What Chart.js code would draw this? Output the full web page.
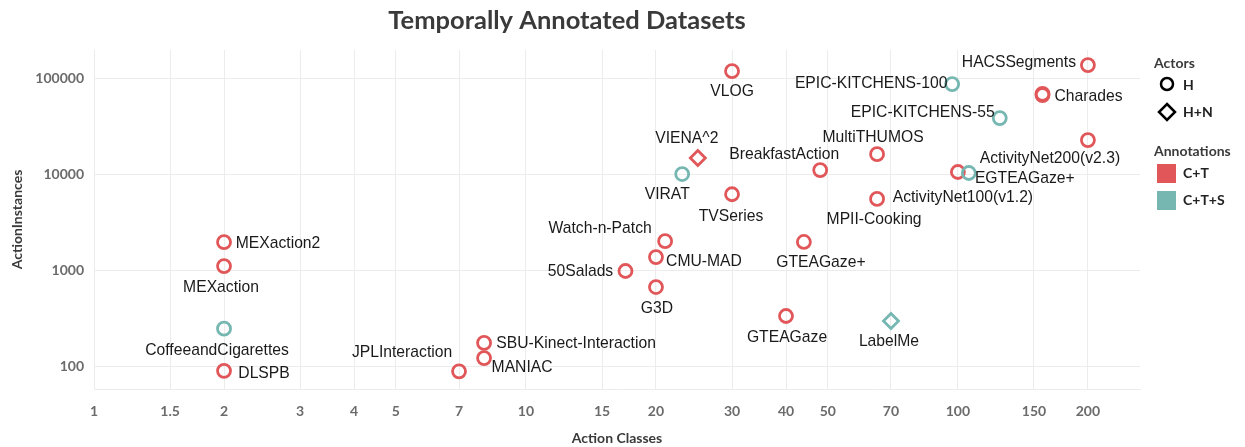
<!DOCTYPE html>
<html>
<head>
<meta charset="utf-8">
<script src="https://cdn.jsdelivr.net/npm/chart.js@4"></script>
<style>
  body { margin: 0; background: #fff; }
  #wrap { width: 1245px; height: 447px; position: relative; }
</style>
</head>
<body>
<div id="wrap"><canvas id="scatterChart"></canvas></div>
<script>
    // dataset names, classes (x) and instances (y)
    var names = ['MEXaction2', 'MEXaction', 'CoffeeandCigarettes', 'DLSPB', 'JPLInteraction',
        'SBU-Kinect-Interaction', 'MANIAC', '50Salads', 'G3D', 'CMU-MAD', 'Watch-n-Patch',
        'VIRAT', 'VIENA^2', 'TVSeries', 'VLOG', 'BreakfastAction', 'GTEAGaze+', 'GTEAGaze',
        'MultiTHUMOS', 'MPII-Cooking', 'LabelMe', 'EPIC-KITCHENS-100', 'EPIC-KITCHENS-55',
        'ActivityNet100(v1.2)', 'EGTEAGaze+', 'ActivityNet200(v2.3)', 'Charades', '', 'HACSSegments'];
    var classes = [2, 2, 2, 2, 7, 8, 8, 17, 20, 20, 21, 23, 25, 30, 30, 48, 44, 40,
        65, 65, 70, 97, 125, 100, 106, 200, 157, 157, 200];
    var instances = [1950, 1100, 245, 89, 88, 174, 121, 977, 665, 1365, 2000, 10000, 14700,
        6160, 118000, 11000, 1960, 332, 16100, 5500, 294, 86600, 38300, 10500, 10250,
        22600, 66500, 68500, 136600];
    var actors = ['H', 'H', 'H', 'H', 'H', 'H', 'H', 'H', 'H', 'H', 'H', 'H', 'H+N', 'H', 'H',
        'H', 'H', 'H', 'H', 'H', 'H+N', 'H', 'H', 'H', 'H', 'H', 'H', 'H', 'H'];
    var annotations = ['C+T', 'C+T', 'C+T+S', 'C+T', 'C+T', 'C+T', 'C+T', 'C+T', 'C+T', 'C+T',
        'C+T', 'C+T+S', 'C+T', 'C+T', 'C+T', 'C+T', 'C+T', 'C+T', 'C+T', 'C+T', 'C+T+S',
        'C+T+S', 'C+T+S', 'C+T', 'C+T+S', 'C+T', 'C+T', 'C+T', 'C+T'];
    var xTicks = [1, 1.5, 2, 3, 4, 5, 7, 10, 15, 20, 30, 40, 50, 70, 100, 150, 200];
    var yTicks = [100, 1000, 10000, 100000];

    var colors = { 'C+T': '#E15759', 'C+T+S': '#76B7B2' };
    var shapes = { 'H': 'circle', 'H+N': 'rectRot' };

    // label offset (px) from the point, text centred there
    var labelOffsets = {
        'MEXaction2': [54, 1], 'MEXaction': [-3, 22], 'CoffeeandCigarettes': [-7, 22],
        'DLSPB': [40, 3], 'JPLInteraction': [-57, -19], 'SBU-Kinect-Interaction': [92, 1],
        'MANIAC': [38, 10], '50Salads': [-45, 1], 'G3D': [1, 22], 'CMU-MAD': [48, 5],
        'Watch-n-Patch': [-65, -12], 'VIRAT': [-15, 21], 'VIENA^2': [-11, -19],
        'TVSeries': [-1, 22], 'VLOG': [0, 21], 'BreakfastAction': [-36, -15],
        'GTEAGaze+': [17, 21], 'GTEAGaze': [1, 22], 'MultiTHUMOS': [-4, -17],
        'MPII-Cooking': [-3, 21], 'LabelMe': [-2, 21], 'EPIC-KITCHENS-100': [-81, 0],
        'EPIC-KITCHENS-55': [-77, -5], 'ActivityNet100(v1.2)': [5, 26],
        'EGTEAGaze+': [56, 6], 'ActivityNet200(v2.3)': [-38, 19], 'Charades': [46, 2],
        'HACSSegments': [-69, -2]
    };

    var points = classes.map(function(c, i) { return { x: c, y: instances[i] }; });

    var labelPlugin = {
        id: 'pointLabels',
        afterDatasetsDraw: function(chart) {
            var ctx = chart.ctx;
            var meta = chart.getDatasetMeta(0);
            ctx.save();
            ctx.font = '15.7px "Liberation Sans", Arial, sans-serif';
            ctx.fillStyle = '#1a1a1a';
            ctx.textAlign = 'center';
            ctx.textBaseline = 'middle';
            meta.data.forEach(function(pt, i) {
                var off = labelOffsets[names[i]];
                if (!off) return;
                ctx.fillText(names[i], pt.x + off[0], pt.y + off[1]);
            });
            ctx.restore();
        },
        afterDraw: function(chart) {
            var ctx = chart.ctx;
            ctx.save();
            // title
            ctx.fillStyle = '#3a3a3a';
            ctx.font = 'bold 25.5px Lato, "Open Sans", sans-serif';
            ctx.textAlign = 'center';
            ctx.textBaseline = 'middle';
            ctx.fillText('Temporally Annotated Datasets', 567, 21);

            // legend
            ctx.textAlign = 'left';
            ctx.fillStyle = '#3a3a3a';
            ctx.font = 'bold 14px Lato, "Open Sans", sans-serif';
            ctx.fillText('Actors', 1154, 63);
            ctx.fillText('Annotations', 1154, 151);
            ctx.fillStyle = '#222';
            ctx.fillText('H', 1183, 85);
            ctx.fillText('H+N', 1183, 112);
            ctx.fillText('C+T', 1183, 173);
            ctx.fillText('C+T+S', 1183, 200);

            ctx.strokeStyle = '#000';
            ctx.lineWidth = 2.5;
            ctx.beginPath();
            ctx.arc(1167, 84, 6, 0, Math.PI * 2);
            ctx.stroke();
            ctx.beginPath();
            ctx.moveTo(1167, 104); ctx.lineTo(1175, 112);
            ctx.lineTo(1167, 120); ctx.lineTo(1159, 112);
            ctx.closePath();
            ctx.stroke();

            ctx.fillStyle = colors['C+T'];
            ctx.fillRect(1157, 164, 19, 19);
            ctx.fillStyle = colors['C+T+S'];
            ctx.fillRect(1157, 191, 19, 19);
            ctx.restore();
        }
    };

    var ctx = document.getElementById('scatterChart').getContext('2d');
    var scatterChart = new Chart(ctx, {
        type: 'scatter',
        data: {
            datasets: [{
                data: points,
                pointStyle: actors.map(function(a) { return shapes[a]; }),
                borderColor: annotations.map(function(a) { return colors[a]; }),
                backgroundColor: 'rgba(0,0,0,0)',
                pointBorderWidth: 2.8,
                pointRadius: actors.map(function(a) { return a === 'H+N' ? 7.5 : 6.5; }),
                pointHoverRadius: 7
            }]
        },
        plugins: [labelPlugin],
        options: {
            responsive: true,
            maintainAspectRatio: false,
            animation: false,
            layout: { padding: { left: 0, right: 105, top: 50, bottom: 0 } },
            plugins: {
                legend: { display: false },
                title: { display: false },
                tooltip: {
                    callbacks: {
                        label: function(item) {
                            return names[item.dataIndex] + ': ' + item.parsed.x + ', ' + item.parsed.y;
                        }
                    }
                }
            },
            scales: {
                x: {
                    type: 'logarithmic',
                    min: 1,
                    max: 264,
                    afterBuildTicks: function(scale) {
                        scale.ticks = xTicks.map(function(v) { return { value: v }; });
                    },
                    afterFit: function(scale) { scale.height = 58; },
                    grid: { color: '#ececec', lineWidth: 1, drawTicks: false },
                    border: { color: '#ececec' },
                    ticks: {
                        autoSkip: false,
                        maxRotation: 0,
                        padding: 14,
                        color: '#6b6b6b',
                        font: { family: 'Lato, "Open Sans", sans-serif', size: 14, weight: 'bold' },
                        callback: function(v) { return String(v); }
                    },
                    title: {
                        display: true,
                        text: 'Action Classes',
                        color: '#3a3a3a',
                        padding: { top: 8, bottom: 0 },
                        font: { family: 'Lato, "Open Sans", sans-serif', size: 14, weight: 'bold' }
                    }
                },
                y: {
                    type: 'logarithmic',
                    min: 57.6,
                    max: 196000,
                    afterBuildTicks: function(scale) {
                        scale.ticks = yTicks.map(function(v) { return { value: v }; });
                    },
                    afterFit: function(scale) { scale.width = 94; },
                    grid: { color: '#ececec', lineWidth: 1, drawTicks: false },
                    border: { display: false },
                    ticks: {
                        padding: 10,
                        color: '#6b6b6b',
                        font: { family: 'Lato, "Open Sans", sans-serif', size: 14, weight: 'bold' },
                        callback: function(v) { return String(v); }
                    },
                    title: {
                        display: true,
                        text: 'ActionInstances',
                        color: '#3a3a3a',
                        padding: { top: 9, bottom: 0 },
                        font: { family: 'Lato, "Open Sans", sans-serif', size: 14, weight: 'bold' }
                    }
                }
            }
        }
    });
</script>
</body>
</html>
